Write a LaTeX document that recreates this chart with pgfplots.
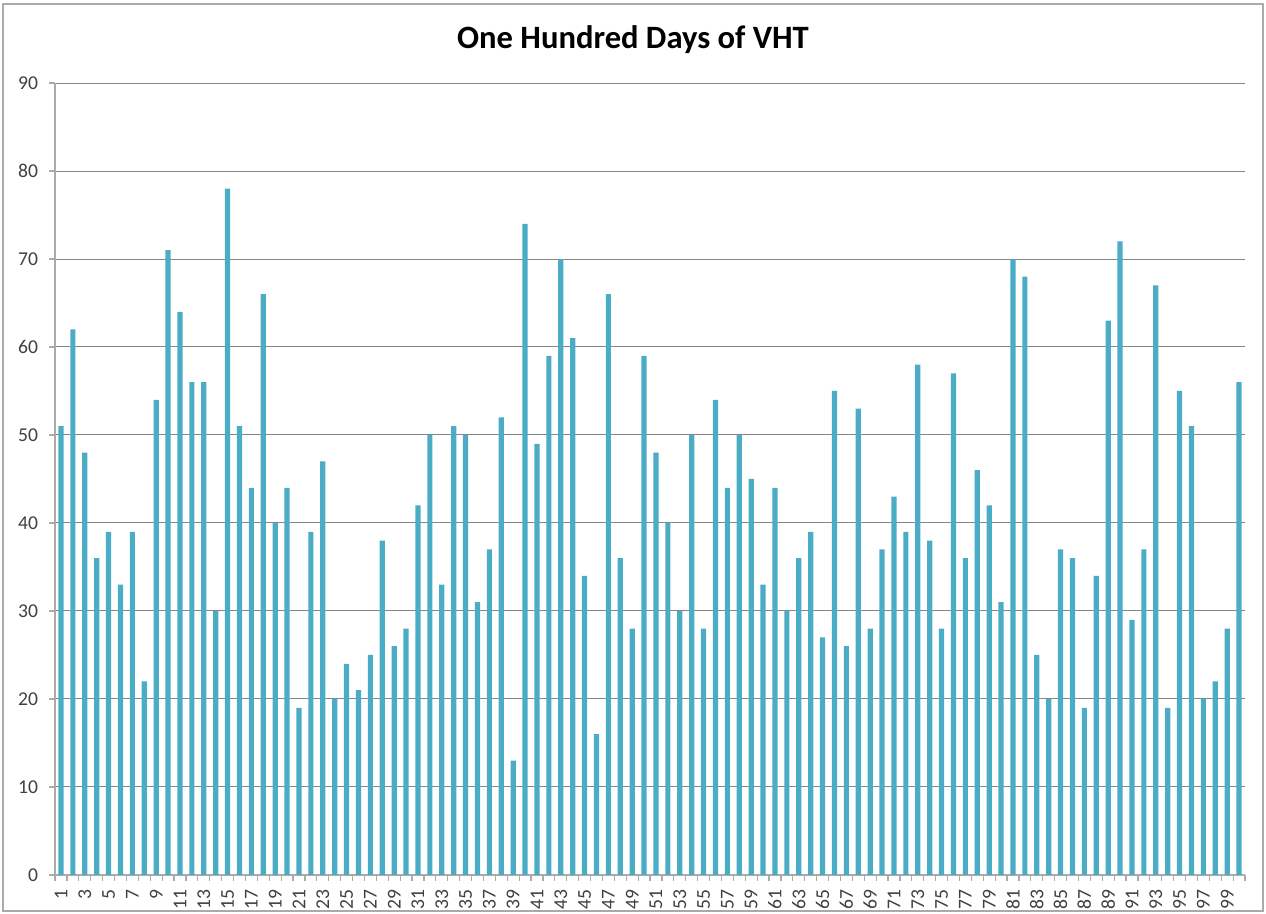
\documentclass[border=0pt]{standalone}
\usepackage{pgfplots}
\pgfplotsset{compat=1.18}
\usepackage{pgfplotstable}
\usepackage{fontspec}
\setmainfont{Carlito}
\definecolor{barcol}{RGB}{75,172,198}
\definecolor{gridcol}{RGB}{134,134,134}
\definecolor{axcol}{RGB}{170,170,170}
\definecolor{labcol}{RGB}{64,64,64}
\pgfplotstableread{
day value
1 51
2 62
3 48
4 36
5 39
6 33
7 39
8 22
9 54
10 71
11 64
12 56
13 56
14 30
15 78
16 51
17 44
18 66
19 40
20 44
21 19
22 39
23 47
24 20
25 24
26 21
27 25
28 38
29 26
30 28
31 42
32 50
33 33
34 51
35 50
36 31
37 37
38 52
39 13
40 74
41 49
42 59
43 70
44 61
45 34
46 16
47 66
48 36
49 28
50 59
51 48
52 40
53 30
54 50
55 28
56 54
57 44
58 50
59 45
60 33
61 44
62 30
63 36
64 39
65 27
66 55
67 26
68 53
69 28
70 37
71 43
72 39
73 58
74 38
75 28
76 57
77 36
78 46
79 42
80 31
81 70
82 68
83 25
84 20
85 37
86 36
87 19
88 34
89 63
90 72
91 29
92 37
93 67
94 19
95 55
96 51
97 20
98 22
99 28
100 56
}\datatable
\begin{document}
\begin{tikzpicture}
\useasboundingbox (0,0) rectangle (633pt,457pt);
\draw[axcol, line width=0.8pt] (1.5pt,1.5pt) rectangle (631.5pt,455pt);
\node[font=\bfseries\fontsize{16.3}{19}\selectfont, anchor=center] at (316.5pt,437pt) {One Hundred Days of VHT};
\begin{axis}[
  at={(27.5pt,19.5pt)}, anchor=south west,
  scale only axis, width=595pt, height=396pt,
  xmin=0.5, xmax=100.5, ymin=0, ymax=90,
  ytick={0,10,...,90},
  xtick={1,3,...,99},
  minor xtick={0.5,1.5,...,100.5},
  ymajorgrids, grid style={gridcol, line width=0.5pt},
  axis x line*=bottom, axis y line*=left,
  axis line style={axcol, line width=0.7pt, -},
  tick align=outside,
  major tick length=3pt, minor tick length=3pt,
  major x tick style={draw=none},
  minor x tick style={axcol, line width=0.6pt},
  major y tick style={axcol, line width=0.6pt},
  ticklabel style={font=\fontsize{9.8}{11}\selectfont, text=labcol},
  /pgf/number format/assume math mode=true,
  x tick label style={rotate=90, anchor=east, xshift=-1pt},
  y tick label style={xshift=-2pt},
  clip=false,
]
\addplot[ybar, bar width=2.6pt, fill=barcol, draw=none, bar shift=0pt] table[x=day, y=value] {\datatable};
\end{axis}
\end{tikzpicture}
\end{document}
